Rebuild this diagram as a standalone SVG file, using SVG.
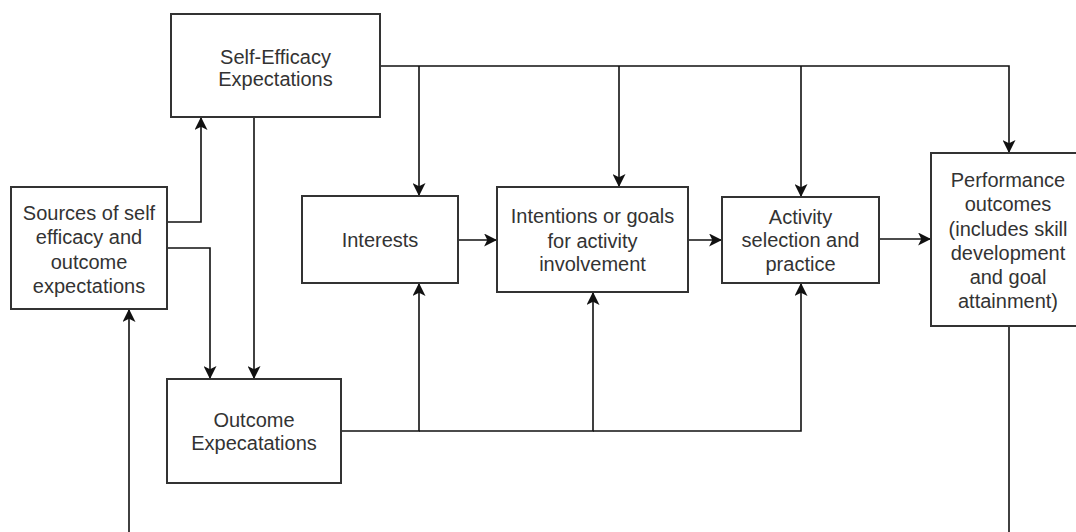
<svg xmlns="http://www.w3.org/2000/svg" width="1076" height="532" viewBox="0 0 1076 532">
  <style>
    .box { fill: #ffffff; stroke: #333333; stroke-width: 2; }
    .lbl { font-family: "Liberation Sans", Arial, Helvetica, sans-serif; font-size: 20px; fill: #333333; text-anchor: middle; }
    .edge { fill: none; stroke: #111111; stroke-width: 1.6; }
    .arrow { marker-end: url(#head); }
  </style>
  <defs>
    <marker id="head" markerUnits="userSpaceOnUse" markerWidth="13" markerHeight="13" viewBox="0 0 12 12" refX="11" refY="6" orient="auto">
      <path d="M0,0 L12,6 L0,12 L3,6 Z" fill="#111111"/>
    </marker>
  </defs>

  <rect width="1076" height="532" fill="#ffffff"/>

  <!-- connectors -->
  <g id="connectors">
    <!-- self-efficacy fan-out along the top bus -->
    <path class="edge arrow" d="M380,66 H1009 V152"/>
    <path class="edge arrow" d="M419,66 V195"/>
    <path class="edge arrow" d="M619,66 V186"/>
    <path class="edge arrow" d="M801,66 V196"/>
    <!-- self-efficacy to outcome expectations -->
    <path class="edge arrow" d="M254,117 V378"/>
    <!-- sources to self-efficacy and outcome expectations -->
    <path class="edge arrow" d="M167,222 H201 V118"/>
    <path class="edge arrow" d="M167,248 H210 V378"/>
    <!-- outcome expectations bus -->
    <path class="edge arrow" d="M341,431 H419 V284"/>
    <path class="edge arrow" d="M419,431 H593 V293"/>
    <path class="edge arrow" d="M593,431 H801 V284"/>
    <!-- main chain -->
    <path class="edge arrow" d="M458,240 H496"/>
    <path class="edge arrow" d="M688,240 H721"/>
    <path class="edge arrow" d="M879,239 H930"/>
    <!-- feedback loop -->
    <path class="edge arrow" d="M129,532 V310"/>
    <path class="edge" d="M1009,326 V532"/>
  </g>

  <g id="self-efficacy">
    <rect class="box" x="171" y="14" width="209" height="103"/>
    <text class="lbl" x="275.5" y="64">Self-Efficacy</text>
    <text class="lbl" x="275.5" y="86">Expectations</text>
  </g>

  <g id="sources">
    <rect class="box" x="11" y="187" width="156" height="122"/>
    <text class="lbl" x="89" y="220">Sources of self</text>
    <text class="lbl" x="89" y="244">efficacy and</text>
    <text class="lbl" x="89" y="269">outcome</text>
    <text class="lbl" x="89" y="293">expectations</text>
  </g>

  <g id="outcome">
    <rect class="box" x="167" y="379" width="174" height="104"/>
    <text class="lbl" x="254" y="427">Outcome</text>
    <text class="lbl" x="254" y="450">Expecatations</text>
  </g>

  <g id="interests">
    <rect class="box" x="302" y="196" width="156" height="87"/>
    <text class="lbl" x="380" y="247">Interests</text>
  </g>

  <g id="intentions">
    <rect class="box" x="497" y="187" width="191" height="105"/>
    <text class="lbl" x="592.5" y="223">Intentions or goals</text>
    <text class="lbl" x="592.5" y="248">for activity</text>
    <text class="lbl" x="592.5" y="271">involvement</text>
  </g>

  <g id="activity">
    <rect class="box" x="722" y="197" width="157" height="86"/>
    <text class="lbl" x="800.5" y="224">Activity</text>
    <text class="lbl" x="800.5" y="247">selection and</text>
    <text class="lbl" x="800.5" y="271">practice</text>
  </g>

  <g id="performance">
    <rect class="box" x="931" y="153" width="156" height="173"/>
    <text class="lbl" x="1008" y="187">Performance</text>
    <text class="lbl" x="1008" y="211">outcomes</text>
    <text class="lbl" x="1008" y="236">(includes skill</text>
    <text class="lbl" x="1008" y="260">development</text>
    <text class="lbl" x="1008" y="284">and goal</text>
    <text class="lbl" x="1008" y="308">attainment)</text>
  </g>
</svg>
